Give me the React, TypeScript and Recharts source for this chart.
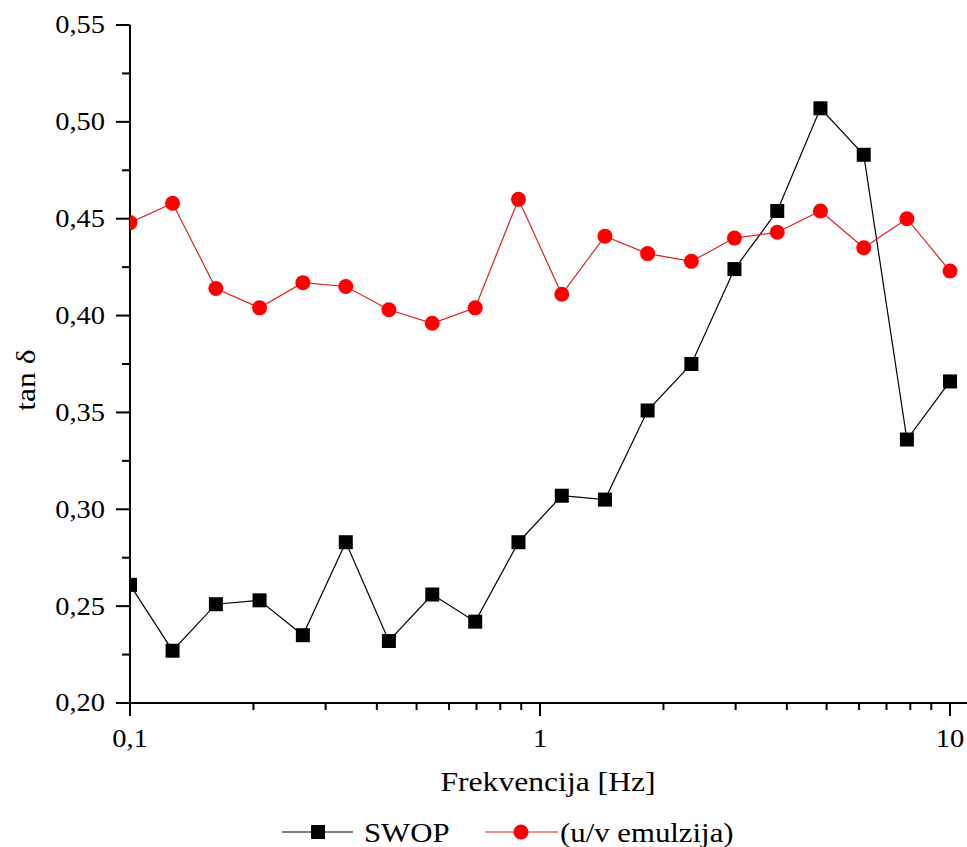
import { LineChart, Line, XAxis, YAxis, Label } from 'recharts'

// Frequency sweep, 0.1 – 10 Hz (log spaced)
const frequency = [0.1, 0.127, 0.162, 0.207, 0.264, 0.336, 0.428, 0.546, 0.695, 0.886, 1.13, 1.44, 1.83, 2.34, 2.98, 3.79, 4.83, 6.16, 7.85, 10]
const swop = [0.261, 0.227, 0.251, 0.253, 0.235, 0.283, 0.232, 0.256, 0.242, 0.283, 0.307, 0.305, 0.351, 0.375, 0.424, 0.454, 0.507, 0.483, 0.336, 0.366]
const emulzija = [0.448, 0.458, 0.414, 0.404, 0.417, 0.415, 0.403, 0.396, 0.404, 0.460, 0.411, 0.441, 0.432, 0.428, 0.440, 0.443, 0.454, 0.435, 0.450, 0.423]

const xTicks = [0.1, 0.2, 0.3, 0.4, 0.5, 0.6, 0.7, 0.8, 0.9, 1, 2, 3, 4, 5, 6, 7, 8, 9, 10]
const xMajor = [0.1, 1, 10]
const yTicks = [0.2, 0.225, 0.25, 0.275, 0.3, 0.325, 0.35, 0.375, 0.4, 0.425, 0.45, 0.475, 0.5, 0.525, 0.55]

const serif = { fontFamily: "'Liberation Serif', 'DejaVu Serif', serif" }
const RED = '#ff0000'

const data = frequency.map((f, i) => ({ f, swop: swop[i], emulzija: emulzija[i] }))

const fmt = (v: number, digits: number) => v.toFixed(digits).replace('.', ',')

// text drawn slightly wide, like the original export
function WideText({ x, y, size, anchor = 'start', sx = 1.14, rotate = 0, baseline, children }: any) {
  return (
    <text
      transform={`translate(${x} ${y}) rotate(${rotate}) scale(${sx} 1)`}
      textAnchor={anchor}
      dominantBaseline={baseline}
      fontSize={size}
      style={serif}
      fill="#000"
    >
      {children}
    </text>
  )
}

function XTick({ x, y, payload }: any) {
  const v = payload.value
  const major = xMajor.includes(v)
  return (
    <g>
      <line x1={x} x2={x} y1={y} y2={y + (major ? 13 : 7)} stroke="#000" strokeWidth={2} />
      {major && (
        <WideText x={x} y={y + 44} size={25} anchor="middle">
          {v < 1 ? fmt(v, 1) : String(v)}
        </WideText>
      )}
    </g>
  )
}

function YTick({ x, y, payload }: any) {
  const v = payload.value
  const major = Math.round(v * 1000) % 50 === 0
  return (
    <g>
      <line x1={x - (major ? 14 : 8)} x2={x} y1={y} y2={y} stroke="#000" strokeWidth={2} />
      {major && (
        <WideText x={x - 25} y={y} size={25} anchor="end" baseline="central">
          {fmt(v, 2)}
        </WideText>
      )}
    </g>
  )
}

// axis title plus the series key underneath it
function BottomCaption() {
  return (
    <g>
      <WideText x={548} y={791} size={28} anchor="middle" sx={1.13}>Frekvencija [Hz]</WideText>
      <line x1={282} x2={353} y1={832} y2={832} stroke="#000" strokeWidth={1.2} />
      <rect x={311} y={825} width={14} height={14} fill="#000" />
      <WideText x={364} y={842} size={28} sx={1.1}>SWOP</WideText>
      <line x1={485} x2={558} y1={832} y2={832} stroke="#d22" strokeWidth={1.2} />
      <circle cx={521} cy={832} r={7.5} fill={RED} />
      <WideText x={560} y={842} size={28} sx={1.1}>(u/v emulzija)</WideText>
    </g>
  )
}

function SquareDot({ cx, cy, index }: any) {
  return <rect key={`sq-${index}`} x={cx - 7} y={cy - 7} width={14} height={14} fill="#000" />
}

export default function App() {
  return (
    <div style={{ position: 'absolute', left: 0, top: 0, width: 967, height: 847, background: '#fff', ...serif }}>
      <LineChart width={967} height={847} data={data} margin={{ top: 25, right: 0, left: 0, bottom: 0 }}>
        <XAxis
          dataKey="f"
          type="number"
          scale="log"
          domain={[0.1, 11]}
          allowDataOverflow
          ticks={xTicks}
          interval={0}
          height={144}
          tickSize={0}
          tickMargin={0}
          tickLine={false}
          tick={<XTick />}
          axisLine={{ stroke: '#000', strokeWidth: 2 }}
        >
          <Label content={<BottomCaption />} />
        </XAxis>
        <YAxis
          type="number"
          domain={[0.2, 0.55]}
          ticks={yTicks}
          interval={0}
          width={130}
          tickSize={0}
          tickMargin={0}
          tickLine={false}
          tick={<YTick />}
          axisLine={{ stroke: '#000', strokeWidth: 2 }}
        >
          <Label
            content={({ viewBox }: any) => (
              <WideText x={viewBox.x + 35} y={380} size={28} anchor="middle" rotate={-90} sx={1.13}>
                tan δ
              </WideText>
            )}
          />
        </YAxis>
        <Line
          type="linear"
          dataKey="swop"
          stroke="#000"
          strokeWidth={1.2}
          dot={<SquareDot />}
          activeDot={false}
          isAnimationActive={false}
        />
        <Line
          type="linear"
          dataKey="emulzija"
          stroke="#d22"
          strokeWidth={1.2}
          dot={{ r: 7.5, fill: RED, stroke: RED, strokeWidth: 0 }}
          activeDot={false}
          isAnimationActive={false}
        />
      </LineChart>
    </div>
  )
}
